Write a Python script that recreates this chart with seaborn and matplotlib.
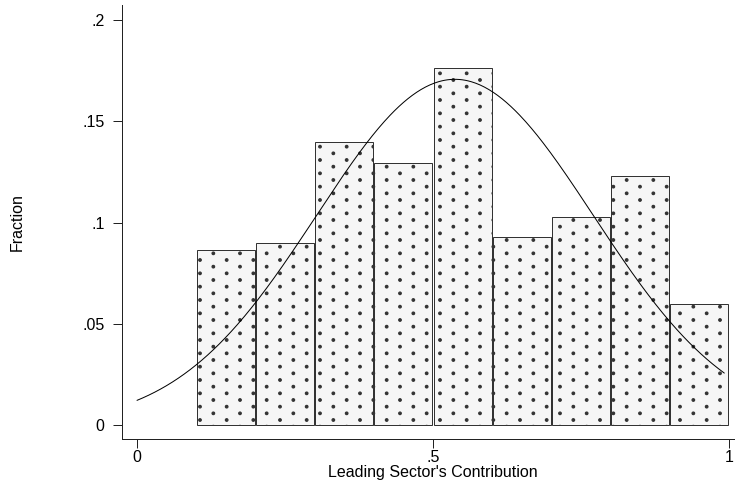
import numpy as np
import pandas as pd
import matplotlib
matplotlib.use('Agg')
import matplotlib.pyplot as plt
import matplotlib.hatch as mhatch
import seaborn as sns

# ---- data ----
bin_edges = [0.1, 0.2, 0.3, 0.4, 0.5, 0.6, 0.7, 0.8, 0.9, 1.0]
bin_centers = [0.15, 0.25, 0.35, 0.45, 0.55, 0.65, 0.75, 0.85, 0.95]
fractions = [0.0864, 0.0897, 0.1396, 0.1295, 0.1761, 0.0930, 0.1029, 0.1231, 0.0598]

# fitted normal curve parameters
curve_mean = 0.537
curve_sd = 0.2337
curve_start = 0.0
curve_end = 0.992

x_ticks = [0, 0.5, 1]
x_tick_labels = ['0', '.5', '1']
y_ticks = [0, 0.05, 0.1, 0.15, 0.2]
y_tick_labels = ['0', '.05', '.1', '.15', '.2']
x_label = "Leading Sector's Contribution"
y_label = "Fraction"


# dotted fill: same lattice as matplotlib's '.' hatch but transposed (column-staggered)
class _ColumnDots(mhatch.SmallFilledCircles):
    def set_vertices_and_codes(self, vertices, codes):
        super().set_vertices_and_codes(vertices, codes)
        vertices[:] = vertices[:, ::-1].copy()


mhatch._hatch_types = [(_ColumnDots if t is mhatch.SmallFilledCircles else t)
                       for t in mhatch._hatch_types]

# ---- style ----
DPI = 80
W, H = 735, 487
sns.set_theme(style='ticks')
plt.rcParams['font.family'] = ['Liberation Sans', 'DejaVu Sans']
plt.rcParams['hatch.linewidth'] = 1.0
plt.rcParams['hatch.color'] = 'black'

fig = plt.figure(figsize=(W / DPI, H / DPI), dpi=DPI)
fig.patch.set_facecolor('white')
left_px, bottom_px, top_px = 121.5, 439, 5
ax = fig.add_axes([left_px / W, (H - bottom_px) / H, 1 - left_px / W, (bottom_px - top_px) / H])
ax.set_facecolor('white')

df = pd.DataFrame({'x': bin_centers, 'w': fractions})
sns.histplot(data=df, x='x', weights='w', bins=bin_edges, stat='count',
             shrink=0.98, color='#f6f6f6', edgecolor='#333333',
             linewidth=0.9, alpha=1, ax=ax)
for p in ax.patches:
    p.set_hatch('.')

# normal density scaled to fraction per bin
bin_width = bin_edges[1] - bin_edges[0]
cx = np.linspace(curve_start, curve_end, 400)
cy = bin_width / (curve_sd * np.sqrt(2 * np.pi)) * np.exp(-0.5 * ((cx - curve_mean) / curve_sd) ** 2)
sns.lineplot(x=cx, y=cy, color='black', linewidth=0.9, ax=ax)

ax.set_xlim(-0.0262, 1.0101)
ax.set_ylim(-0.0069, 0.2074)

ax.set_xticks(x_ticks)
ax.set_xticklabels(x_tick_labels)
ax.set_yticks(y_ticks)
ax.set_yticklabels(y_tick_labels)

sns.despine(ax=ax)
for s in ['left', 'bottom']:
    ax.spines[s].set_color('#222222')
    ax.spines[s].set_linewidth(0.9)

ax.tick_params(axis='both', direction='out', length=8.1, width=0.9,
               color='#222222', labelsize=14.4, labelcolor='black')
ax.tick_params(axis='y', pad=7.2)
ax.tick_params(axis='x', pad=1.5)

ax.set_xlabel(x_label, fontsize=14.4, color='black')
ax.xaxis.set_label_coords(0.507, -0.061)
ax.set_ylabel(y_label, fontsize=14.4, color='black')
ax.yaxis.set_label_coords(-0.157, 0.5)
ax.grid(False)

fig.savefig('out.png', dpi=DPI, facecolor='white')
